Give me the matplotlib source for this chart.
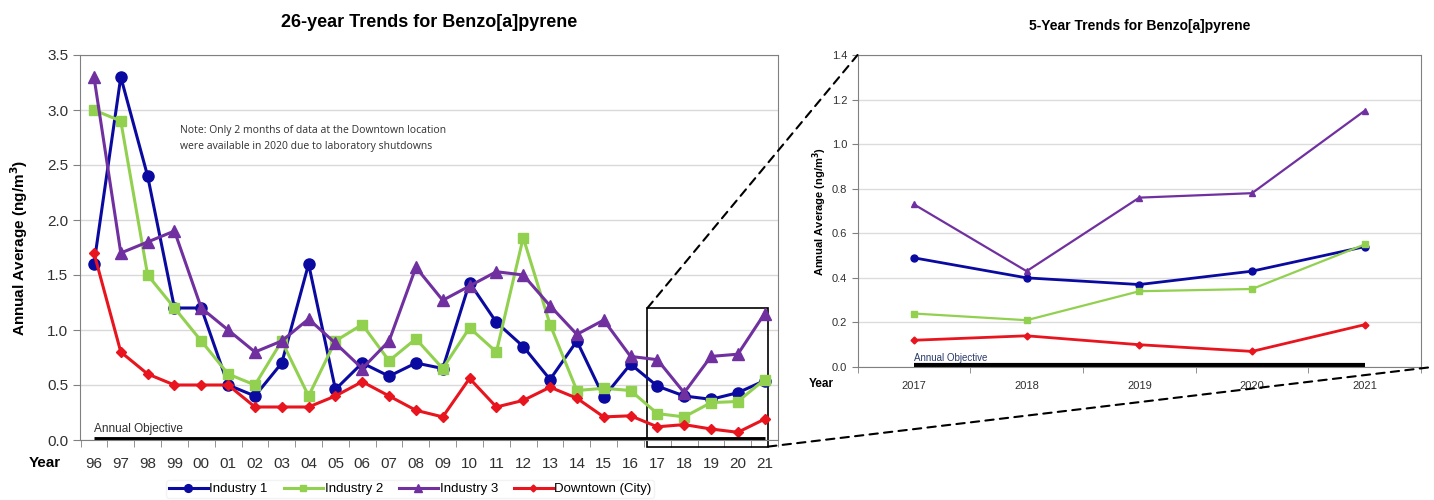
import numpy as np
import matplotlib.pyplot as plt
from matplotlib.patches import Rectangle, ConnectionPatch
import matplotlib as mpl

mpl.rcParams['font.family'] = ['Liberation Sans', 'DejaVu Sans']

years = ['96', '97', '98', '99', '00', '01', '02', '03', '04', '05', '06', '07', '08',
         '09', '10', '11', '12', '13', '14', '15', '16', '17', '18', '19', '20', '21']
industry1 = [1.60, 3.30, 2.40, 1.20, 1.20, 0.50, 0.40, 0.70, 1.60, 0.46, 0.70, 0.58, 0.70,
             0.65, 1.43, 1.07, 0.85, 0.55, 0.90, 0.39, 0.69, 0.49, 0.40, 0.37, 0.43, 0.54]
industry2 = [3.00, 2.90, 1.50, 1.20, 0.90, 0.60, 0.50, 0.90, 0.40, 0.90, 1.05, 0.72, 0.92,
             0.65, 1.02, 0.80, 1.84, 1.05, 0.45, 0.47, 0.45, 0.24, 0.21, 0.34, 0.35, 0.55]
industry3 = [3.30, 1.70, 1.80, 1.90, 1.20, 1.00, 0.80, 0.90, 1.10, 0.88, 0.65, 0.90, 1.57,
             1.27, 1.40, 1.53, 1.50, 1.22, 0.96, 1.09, 0.76, 0.73, 0.43, 0.76, 0.78, 1.15]
downtown = [1.70, 0.80, 0.60, 0.50, 0.50, 0.50, 0.30, 0.30, 0.30, 0.40, 0.53, 0.40, 0.27,
            0.21, 0.56, 0.30, 0.36, 0.48, 0.38, 0.21, 0.22, 0.12, 0.14, 0.10, 0.07, 0.19]
recent_years = ['2017', '2018', '2019', '2020', '2021']
objective = 0.01

series = [
    ('Industry 1', industry1, '#0a0aa0', 'o', 8),
    ('Industry 2', industry2, '#92d050', 's', 7),
    ('Industry 3', industry3, '#7030a0', '^', 8),
    ('Downtown (City)', downtown, '#e8141e', 'D', 5),
]

fig = plt.figure(figsize=(14.34, 5), dpi=100)
ax1 = fig.add_axes([0.0558, 0.12, 0.4868, 0.77])
ax2 = fig.add_axes([0.598, 0.266, 0.393, 0.624])

# --- 26-year chart ---
x = np.arange(len(years))
for name, vals, col, mk, ms in series:
    ax1.plot(x, vals, color=col, marker=mk, markersize=ms, lw=2.2, label=name)
ax1.plot([x[0], x[-1]], [objective, objective], color='black', lw=3.5, solid_capstyle='butt')
ax1.text(0, 0.07, 'Annual Objective', fontsize=8.5, color='#303030')
ax1.text(3.2, 2.65, 'Note: Only 2 months of data at the Downtown location\n'
         'were available in 2020 due to laboratory shutdowns',
         fontsize=7.5, color='#303030', family='Open Sans', linespacing=1.6)

ax1.set_xlim(-0.52, 25.45)
ax1.set_ylim(0, 3.5)
ax1.set_yticks(np.arange(0, 3.51, 0.5))
ax1.set_yticklabels([f'{v:.1f}' for v in np.arange(0, 3.51, 0.5)])
ax1.set_xticks(x)
ax1.set_xticklabels(years)
ax1.set_xticks(np.arange(-0.5, 25.6, 1), minor=True)
ax1.tick_params(axis='x', which='major', length=0, pad=12, labelsize=11, colors='#303030')
ax1.tick_params(axis='x', which='minor', length=5, color='#808080')
ax1.tick_params(axis='y', length=5, color='#808080', labelsize=11, labelcolor='#303030')
ax1.grid(axis='y', color='#d9d9d9', lw=1)
ax1.set_axisbelow(True)
for s in ax1.spines.values():
    s.set_color('#808080')
ax1.set_ylabel('Annual Average (ng/m$^\\mathbf{3}$)', fontsize=11, fontweight='bold', labelpad=12)
ax1.set_title('26-year Trends for Benzo[a]pyrene', fontsize=13, fontweight='bold', pad=20)
fig.text(0.031, 0.074, 'Year', fontsize=11, fontweight='bold', ha='center', va='center')

# zoom box around the last five years
ax1.add_patch(Rectangle((20.63, -0.06), 4.5, 1.26, fill=False, ec='black', lw=1.2, clip_on=False))

fig.legend(loc='center', bbox_to_anchor=(0.286, 0.022), ncol=4, fontsize=9.5,
           frameon=True, edgecolor='#f0f0f0', handlelength=3, columnspacing=1.2,
           borderpad=0.2, handletextpad=0.1, markerscale=0.7)

# --- 5-year chart ---
x2 = np.arange(len(recent_years))
small = [('o', 5), ('s', 4.5), ('^', 5), ('D', 3.5)]
for (name, vals, col, mk, ms), (_, sms) in zip(series, small):
    lw = 2.0 if name in ('Industry 1', 'Downtown (City)') else 1.6
    ax2.plot(x2, vals[-5:], color=col, marker=mk, markersize=sms, lw=lw)
ax2.plot([x2[0], x2[-1]], [objective, objective], color='black', lw=3, solid_capstyle='butt')
ax2.text(0, 0.025, 'Annual Objective', fontsize=7, color='#2a3a6a')

ax2.set_xlim(-0.47, 4.47)
ax2.set_ylim(0, 1.4)
ax2.set_yticks(np.arange(0, 1.41, 0.2))
ax2.set_yticklabels([f'{v:.1f}' for v in np.arange(0, 1.41, 0.2)])
ax2.set_xticks(x2)
ax2.set_xticklabels(recent_years)
ax2.set_xticks(np.arange(-0.5, 4.6, 1), minor=True)
ax2.tick_params(axis='x', which='major', length=0, pad=10, labelsize=8, colors='#303030')
ax2.tick_params(axis='x', which='minor', length=4, color='#808080')
ax2.tick_params(axis='y', length=4, color='#808080', labelsize=8, labelcolor='#303030')
ax2.grid(axis='y', color='#dcdcdc', lw=1)
ax2.set_axisbelow(True)
for s in ax2.spines.values():
    s.set_color('#808080')
ax2.set_ylabel('Annual Average (ng/m$^\\mathbf{3}$)', fontsize=8, fontweight='bold', labelpad=2)
ax2.set_title('5-Year Trends for Benzo[a]pyrene', fontsize=10, fontweight='bold', pad=18)
fig.text(0.573, 0.232, 'Year', fontsize=8.5, fontweight='bold', ha='center', va='center')

# dashed connectors from the zoom box to the detail chart
for xy_a, xy_b in [((20.63, 1.2), (0.0, 1.0)), ((25.13, -0.06), (1.02, 0.0))]:
    con = ConnectionPatch(xyA=xy_a, coordsA=ax1.transData, xyB=xy_b, coordsB=ax2.transAxes,
                          color='black', lw=1.5, linestyle=(0, (4, 3)))
    fig.add_artist(con)

fig.savefig('out.png', dpi=100)
